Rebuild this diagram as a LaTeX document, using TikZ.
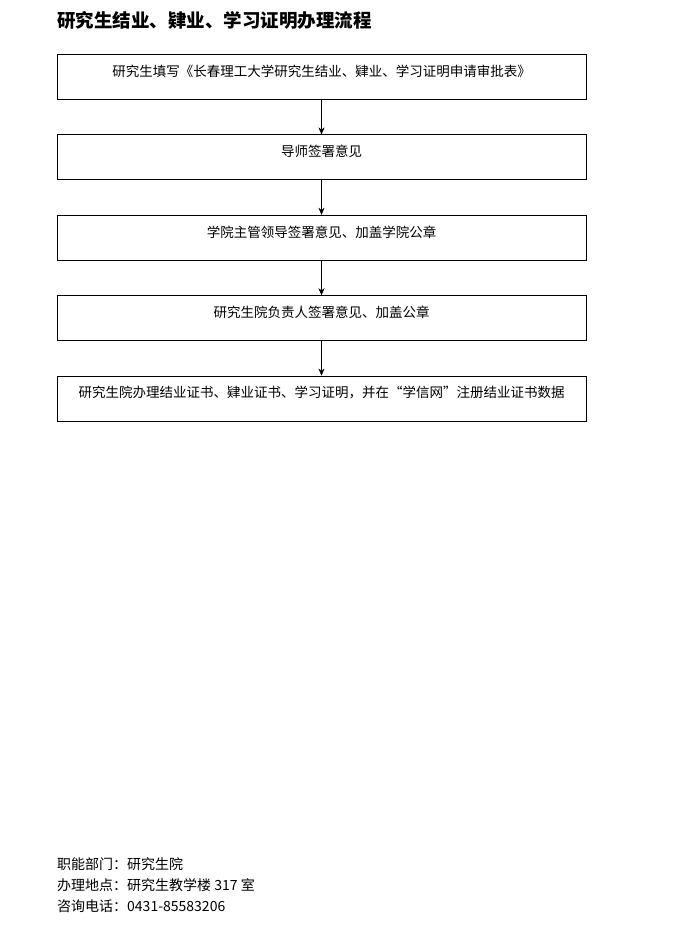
\documentclass[tikz,border=0pt]{standalone}
\usepackage{fontspec}
\setmainfont{Noto Sans CJK SC}
\usetikzlibrary{positioning,arrows.meta}
\tikzset{
  stepbox/.style={draw, rectangle, anchor=north, minimum width=529pt, minimum height=45pt, inner ysep=4pt,
    text height=18pt, text depth=19pt, font=\fontsize{13.5}{15}\selectfont},
  flow/.style={-{Stealth[length=7pt,width=6pt]}, thin}
}
\begin{document}
\begin{tikzpicture}[x=1pt,y=-1pt]
    \useasboundingbox (0,0) rectangle (676,926);
    \node[anchor=west, inner sep=0pt, font=\fontsize{18.5}{20}\selectfont\bfseries] (title) at (57,20) {研究生结业、肄业、学习证明办理流程};
    \node[stepbox] (s1) at (321.5,54) {研究生填写《长春理工大学研究生结业、肄业、学习证明申请审批表》};
    \node[stepbox, below=35pt of s1] (s2) {导师签署意见};
    \node[stepbox, below=35pt of s2] (s3) {学院主管领导签署意见、加盖学院公章};
    \node[stepbox, below=35pt of s3] (s4) {研究生院负责人签署意见、加盖公章};
    \node[stepbox, below=35pt of s4] (s5) {研究生院办理结业证书、肄业证书、学习证明，并在“学信网”注册结业证书数据};
    \foreach \a/\b in {s1/s2,s2/s3,s3/s4,s4/s5} {
      \draw[flow] (\a.south) -- (\b.north);
    }
    % contact info
    \node[anchor=west, inner sep=0pt, font=\fontsize{14}{16}\selectfont] (dept) at (57,864) {职能部门：研究生院};
    \node[anchor=west, inner sep=0pt, font=\fontsize{14}{16}\selectfont] (place) at (57,885) {办理地点：研究生教学楼 317 室};
    \node[anchor=west, inner sep=0pt, font=\fontsize{14}{16}\selectfont] (tel) at (57,906) {咨询电话：0431-85583206};
\end{tikzpicture}
\end{document}
